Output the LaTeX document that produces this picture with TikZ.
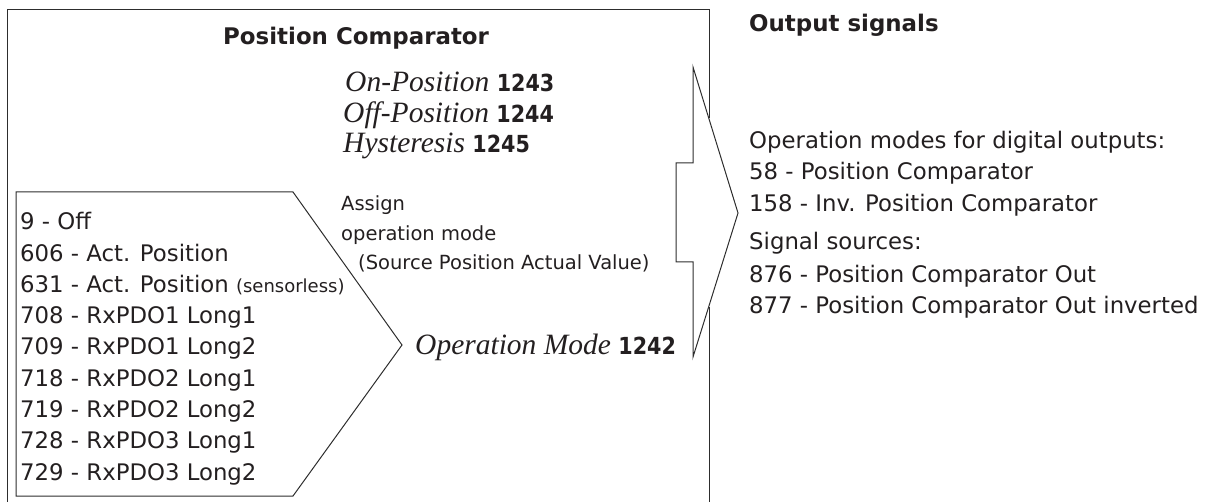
\documentclass[tikz,border=0pt]{standalone}
\usepackage{fontspec}
\usepackage{graphicx}
\setmainfont{DejaVu Sans}
\newfontfamily\paramfont{Liberation Serif}
\usetikzlibrary{positioning}
\definecolor{Ink}{RGB}{35,31,32}
\definecolor{Frame}{RGB}{45,45,45}
\newcommand\pnum[1]{\scalebox{0.88}[1]{\fontsize{23.5}{26}\normalfont\bfseries #1}}

\begin{document}
\begin{tikzpicture}[x=1pt,y=-1pt,
    lbl/.style={anchor=base west,inner sep=0pt,text=Ink,font=\fontsize{22.8}{27}\selectfont},
    mid/.style={lbl,font=\fontsize{19.5}{23}\selectfont},
    par/.style={lbl,font=\fontsize{29.5}{33}\paramfont\itshape},
    head/.style={lbl,font=\fontsize{22.9}{27}\selectfont\bfseries},
    edge/.style={draw=Frame,line width=1pt,line join=miter}]
  \useasboundingbox (0,0) rectangle (1210,502);
  \draw[edge] (7,505) -- (7,10) -- (709,10) -- (709,118);
  \draw[edge] (709,307) -- (709,505);
  \draw[edge] (16,192) -- (293,192) -- (402,345) -- (293,496) -- (16,496) -- cycle;
  \draw[edge] (693,67) -- (738,213) -- (693,357) -- (693,262) -- (676,262)
    -- (676,163) -- (693,163) -- cycle;
  \node[head] (title) at (223,45) {Position Comparator};
  \node[head] (outtitle) at (749,32) {Output signals};
  \node[par] (onpos) at (345,92) {On-Position \pnum{1243}};
  \node[par] (offpos) at (343,123) {Off-Position \pnum{1244}};
  \node[par] (hyst) at (343,153) {Hysteresis \pnum{1245}};
  \node[mid] (assign) at (341,211) {Assign};
  \node[mid] (opmode) at (341,241) {operation mode};
  \node[mid] (source) at (358,270) {(Source Position Actual Value)};
  \node[par] (mode) at (415,355) {Operation Mode \pnum{1242}};
  \foreach \i/\txt in {
    0/9 - Off,
    1/606 - Act. Position,
    2/{631 - Act. Position {\fontsize{18}{20}\selectfont(sensorless)}},
    3/708 - RxPDO1 Long1,
    4/709 - RxPDO1 Long2,
    5/718 - RxPDO2 Long1,
    6/719 - RxPDO2 Long2,
    7/728 - RxPDO3 Long1,
    8/729 - RxPDO3 Long2}
  {
    \node[lbl] (src\i) at (20,230+31.25*\i) {\txt};
  }
  \foreach \i/\y/\txt in {
    1/149/Operation modes for digital outputs:,
    2/180/58 - Position Comparator,
    3/212/158 - Inv. Position Comparator,
    4/250/Signal sources:,
    5/283/876 - Position Comparator Out,
    6/314/877 - Position Comparator Out inverted}
  {
    \node[lbl] (out\i) at (749,\y) {\txt};
  }
\end{tikzpicture}
\end{document}
